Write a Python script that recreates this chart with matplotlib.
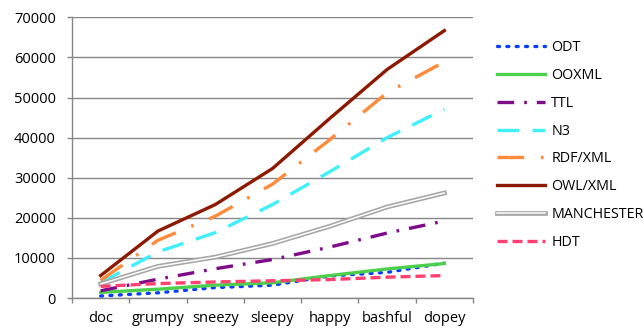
import numpy as np
import matplotlib.pyplot as plt
import matplotlib.patheffects as pe

plt.rcParams['font.family'] = ['Open Sans', 'DejaVu Sans']

files = ['doc', 'grumpy', 'sneezy', 'sleepy', 'happy', 'bashful', 'dopey']

odt = [500, 1300, 2600, 3200, 5500, 6400, 8700]
ooxml = [1400, 2200, 3200, 3800, 5600, 7250, 8600]
ttl = [1800, 4700, 7300, 9600, 12700, 16200, 19200]
n3 = [3800, 11500, 16300, 23300, 31500, 40000, 47100]
rdfxml = [4400, 14400, 20400, 28400, 39500, 51200, 58900]
owlxml = [5600, 16700, 23300, 32300, 44800, 57000, 66700]
manchester = [3500, 7900, 10200, 13600, 17900, 22700, 26200]
hdt = [2900, 3600, 4000, 4300, 4600, 5200, 5600]

fig = plt.figure(figsize=(6.44, 3.29), dpi=100)
ax = fig.add_axes([0.1118, 0.0942, 0.6227, 0.853])
x = np.arange(len(files))

ax.plot(x, odt, color='#0a3cff', lw=2.4, dashes=(0.6, 2.2), dash_capstyle='round', label='ODT')
ax.plot(x, ooxml, color='#4cd04c', lw=2.4, label='OOXML')
ax.plot(x, ttl, color='#7f0a8a', lw=2.4, dashes=(5, 3, 0.8, 3), label='TTL')
ax.plot(x, n3, color='#3ff0fa', lw=2.4, dashes=(6.5, 4), label='N3')
ax.plot(x, rdfxml, color='#ff8a3a', lw=2.4, dashes=(8, 5, 0.8, 5), label='RDF/XML')
ax.plot(x, owlxml, color='#8c1a00', lw=2.4, label='OWL/XML')
ax.plot(x, manchester, color='#a6a6a6', lw=3.4,
        path_effects=[pe.Stroke(linewidth=3.4, foreground='#a6a6a6'),
                      pe.Stroke(linewidth=1.1, foreground='white')],
        label='MANCHESTER')
ax.plot(x, hdt, color='#ff4070', lw=2.4, dashes=(3, 1.5), label='HDT')

ax.set_xlim(-0.5, len(files) - 0.5)
ax.set_ylim(0, 70000)
ax.set_yticks(np.arange(0, 70001, 10000))
ax.set_xticks(x)
ax.set_xticklabels(files)
ax.set_xticks(np.arange(-0.5, len(files), 1), minor=True)
ax.tick_params(axis='x', which='major', length=0, pad=9, labelsize=10.5)
ax.tick_params(axis='x', which='minor', length=3.6, color='#868686', width=1)
ax.tick_params(axis='y', length=3.6, color='#868686', width=1, labelsize=10.5, pad=8)
ax.grid(axis='y', color='#868686', lw=1)
ax.set_axisbelow(True)
for s in ['top', 'right']:
    ax.spines[s].set_visible(False)
for s in ['left', 'bottom']:
    ax.spines[s].set_color('#868686')
    ax.spines[s].set_linewidth(1)

ax.legend(loc='upper left', bbox_to_anchor=(1.045, 0.94), frameon=False,
          fontsize=10.3, handlelength=3.4, handletextpad=0.4, labelspacing=0.9,
          borderaxespad=0)

fig.savefig('out.png', dpi=100)
